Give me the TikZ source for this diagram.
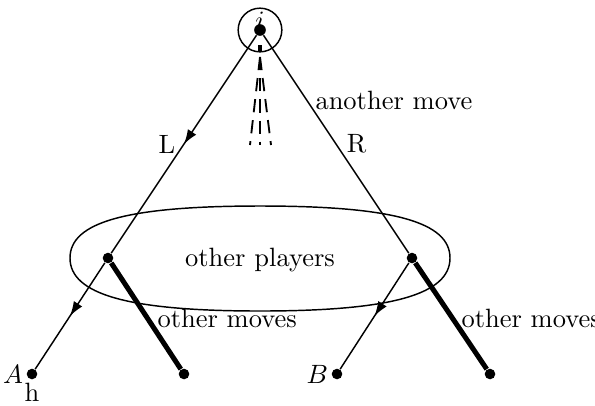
\documentclass[tikz,border=0pt]{standalone}
\usepackage{tikz}
\usetikzlibrary{positioning,calc,arrows.meta,decorations.markings}

\tikzset{
  dot/.style={circle, fill, inner sep=0pt, minimum size=4pt},
  edge/.style={line width=0.55pt},
  heavy/.style={line width=1.9pt},
  midarrow/.style={postaction={decorate}, decoration={markings,
      mark=at position 0.5 with {\arrow{Latex[length=5.5pt,width=3.8pt]}}}}
}

\begin{document}
\begin{tikzpicture}[x=0.01327cm, y=-0.01327cm]
            \useasboundingbox (0,0) rectangle (595,405);
            % nodes of the tree
            \node[dot, minimum size=4.4pt] (root) at (260,30) {};
            \node[dot] (lp) at (108,258) {};
            \node[dot] (rp) at (412,258) {};
            \node[dot, label={[inner sep=1pt]left:$A$}, label={[inner sep=0pt, yshift=-1pt]below:h}] (A) at (32,374) {};
            \node[dot] (lend) at (184,374) {};
            \node[dot, label={[inner sep=1pt]left:$B$}] (B) at (337,374) {};
            \node[dot] (rend) at (490,374) {};
            \node[circle, draw, edge, minimum size=0.58cm, label={[inner sep=0pt, yshift=-8.5pt]above:$i$}] (info) at (260,30) {};
            % other players (a flattened oval)
            \draw[edge] (70,258) .. controls (70,222) and (127,206) .. (260,206)
                        .. controls (393,206) and (450,222) .. (450,258)
                        .. controls (450,294) and (393,311) .. (260,311)
                        .. controls (127,311) and (70,294) .. (70,258) -- cycle;
            \node (players) at (260,260) {other players};
            % moves
            \draw[edge, midarrow] (root) -- node[pos=0.5, inner sep=1pt, left=2pt] {L} (lp);
            \draw[edge] (root) -- node[pos=0.5, inner sep=1pt, right=2.8pt] {R} (rp);
            \node[anchor=west, inner sep=0pt] (another) at (315,100) {another move};
            \draw[edge, midarrow] (lp) -- (A);
            \draw[heavy] (lp) -- (lend);
            \draw[edge, midarrow] (rp) -- (B);
            \draw[heavy] (rp) -- (rend);
            \node[anchor=west, inner sep=0pt] (omleft) at (157,318) {other moves};
            \node[anchor=west, inner sep=0pt] (omright) at (461,318) {other moves};
            % the hidden moves below the root
            \fill (258,45) rectangle (262,52);
            \foreach \x in {250,260,271}
              \draw[line width=0.7pt, dash pattern=on 5pt off 3pt] (260,57) -- (\x,145);
\end{tikzpicture}
\end{document}
